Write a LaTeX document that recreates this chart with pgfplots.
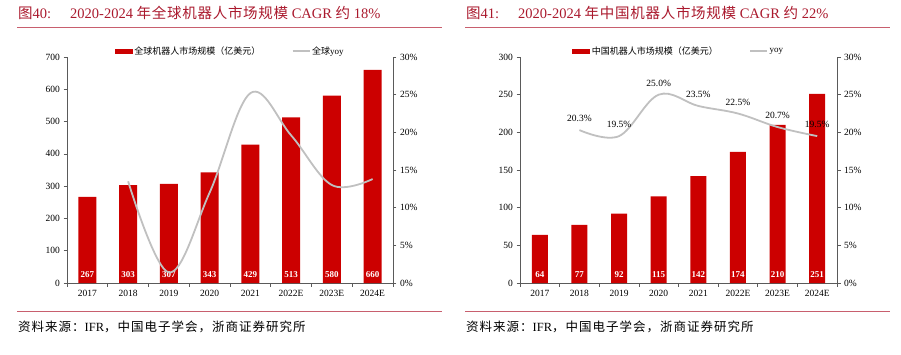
\documentclass[border=0pt]{standalone}
\usepackage{pgfplots}
\pgfplotsset{compat=1.18}
\usepackage{fontspec}
\setmainfont{Liberation Serif}
\newfontfamily\cjk{Noto Sans CJK SC}
\definecolor{barred}{RGB}{204,0,0}
\definecolor{linegray}{RGB}{192,192,192}
\definecolor{titlered}{RGB}{170,25,45}
\definecolor{rulered}{RGB}{200,95,110}
\definecolor{axgray}{RGB}{90,90,90}

\pgfplotsset{
  mybase/.style={
    scale only axis, height=226pt, anchor=south west,
    xmin=-0.5, xmax=7.5, ymin=0,
    axis line style={axgray, line width=0.6pt},
    tick style={axgray, line width=0.6pt},
    tick align=outside,
    major tick length=3.5pt, minor tick length=3.5pt,
    ticklabel style={font=\fontsize{9.5}{10}\selectfont},
    /pgf/number format/assume math mode=true,
    clip=false,
  },
  barax/.style={
    mybase,
    axis x line*=bottom, axis y line*=left,
    xtick={0,...,7},
    xticklabels={2017,2018,2019,2020,2021,2022E,2023E,2024E},
    major x tick style={draw=none},
    minor xtick={-0.5,0.5,...,7.5},
    legend style={at={(0.5,1)}, anchor=south, draw=none, fill=none,
      legend columns=2, inner sep=0pt, yshift=-1pt,
      font=\fontsize{9}{9}\selectfont,
      nodes={inner xsep=1.5pt},
      /tikz/every even column/.append style={column sep=30pt}},
  },
  lineax/.style={
    mybase,
    axis y line*=right, axis x line=none,
    ymax=30, ytick={0,5,...,30},
    yticklabel={\pgfmathprintnumber{\tick}\%},
  },
  barplot/.style={ybar, bar width=#1, fill=barred, draw=none,
    legend image code/.code={\fill[barred] (0pt,-2.5pt) rectangle (18pt,2.5pt);}},
  barlab/.style={only marks, mark=none, forget plot, nodes near coords,
    point meta=explicit symbolic,
    nodes near coords style={anchor=center, text=white,
      font=\bfseries\fontsize{9}{10}\selectfont}},
}

\begin{document}
\begin{tikzpicture}
\useasboundingbox (0pt,0pt) rectangle (901pt,354pt);

% ---------- titles and rules ----------
\node[anchor=base west, inner sep=0pt, text=titlered, font=\fontsize{14.5}{16}\selectfont] at (18pt,335pt) {{\cjk 图}40:};
\node[anchor=base west, inner sep=0pt, text=titlered, font=\fontsize{14.5}{16}\selectfont] at (70pt,335pt) {2020-2024 {\cjk\addfontfeatures{LetterSpace=5} 年全球机器人市场规模} CAGR {\cjk 约} 18\%};
\node[anchor=base west, inner sep=0pt, text=titlered, font=\fontsize{14.5}{16}\selectfont] at (466pt,335pt) {{\cjk 图}41:};
\node[anchor=base west, inner sep=0pt, text=titlered, font=\fontsize{14.5}{16}\selectfont] at (518pt,335pt) {2020-2024 {\cjk\addfontfeatures{LetterSpace=5} 年中国机器人市场规模} CAGR {\cjk 约} 22\%};
\draw[rulered, line width=0.8pt] (17pt,327pt) -- (442pt,327pt);
\draw[rulered, line width=0.8pt] (465pt,327pt) -- (890pt,327pt);
\draw[rulered, line width=0.8pt] (17pt,43pt) -- (442pt,43pt);
\draw[rulered, line width=0.8pt] (465pt,43pt) -- (890pt,43pt);
\node[anchor=base west, inner sep=0pt, font=\fontsize{12.5}{14}\selectfont] at (18pt,23pt) {{\cjk\addfontfeatures{LetterSpace=8} 资料来源：}IFR{\cjk\addfontfeatures{LetterSpace=8} ，中国电子学会，浙商证券研究所}};
\node[anchor=base west, inner sep=0pt, font=\fontsize{12.5}{14}\selectfont] at (466pt,23pt) {{\cjk\addfontfeatures{LetterSpace=8} 资料来源：}IFR{\cjk\addfontfeatures{LetterSpace=8} ，中国电子学会，浙商证券研究所}};

% ---------- left chart ----------
\begin{axis}[barax, at={(67pt,71pt)}, width=326pt, ymax=700, ytick={0,100,...,700}]
\addplot[barplot=18pt] coordinates {(0,267) (1,303) (2,307) (3,343) (4,429) (5,513) (6,580) (7,660)};
\addlegendentry{{\cjk 全球机器人市场规模（亿美元）}}
\addplot[barlab] coordinates {(0,25)[267] (1,25)[303] (2,25)[307] (3,25)[343] (4,25)[429] (5,25)[513] (6,25)[580] (7,25)[660]};
\addlegendimage{linegray, line width=1.8pt}
\addlegendentry{{\cjk 全球}yoy}
\end{axis}
\begin{axis}[lineax, at={(67pt,71pt)}, width=326pt]
\addplot[smooth, tension=0.6, linegray, line width=1.8pt] coordinates {(1,13.5) (2,1.4) (3,12.0) (4,25.2) (5,19.6) (6,13.0) (7,13.8)};
\end{axis}

% ---------- right chart ----------
\begin{axis}[barax, at={(520pt,71pt)}, width=317pt, ymax=300, ytick={0,50,...,300}]
\addplot[barplot=16pt] coordinates {(0,64) (1,77) (2,92) (3,115) (4,142) (5,174) (6,210) (7,251)};
\addlegendentry{{\cjk 中国机器人市场规模（亿美元）}}
\addplot[barlab] coordinates {(0,10.6)[64] (1,10.6)[77] (2,10.6)[92] (3,10.6)[115] (4,10.6)[142] (5,10.6)[174] (6,10.6)[210] (7,10.6)[251]};
\addlegendimage{linegray, line width=1.8pt}
\addlegendentry{yoy}
\end{axis}
\begin{axis}[lineax, at={(520pt,71pt)}, width=317pt]
\addplot[smooth, tension=0.6, linegray, line width=1.8pt,
  nodes near coords, point meta=explicit symbolic,
  nodes near coords style={anchor=south, yshift=4pt, text=black, font=\fontsize{9.5}{10}\selectfont}]
  coordinates {(1,20.3)[20.3\%] (2,19.5)[19.5\%] (3,25.0)[25.0\%] (4,23.5)[23.5\%] (5,22.5)[22.5\%] (6,20.7)[20.7\%] (7,19.5)[19.5\%]};
\end{axis}
\end{tikzpicture}
\end{document}
